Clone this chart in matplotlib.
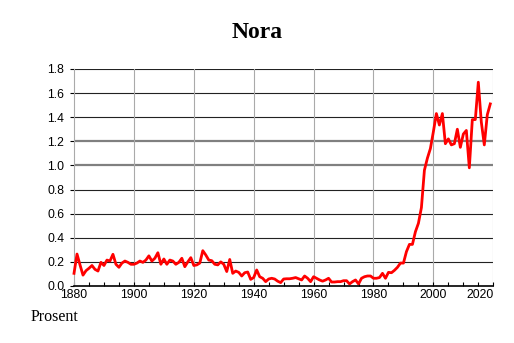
import matplotlib
matplotlib.use("Agg")
import matplotlib.pyplot as plt
from matplotlib.ticker import MultipleLocator

title = "Nora"
ylabel_note = "Prosent"
first_year = 1880
percent = [
    0.105, 0.265, 0.175, 0.09, 0.127, 0.147, 0.17, 0.138, 0.124, 0.196,
    0.17, 0.215, 0.207, 0.263, 0.18, 0.155, 0.19, 0.207, 0.196, 0.18,
    0.18, 0.19, 0.207, 0.196, 0.215, 0.25, 0.207, 0.23, 0.276, 0.18,
    0.224, 0.18, 0.215, 0.207, 0.18, 0.196, 0.23, 0.16, 0.2, 0.235,
    0.17, 0.175, 0.19, 0.293, 0.257, 0.215, 0.21, 0.18, 0.175, 0.2,
    0.18, 0.12, 0.22, 0.105, 0.124, 0.113, 0.083, 0.11, 0.116, 0.055,
    0.07, 0.133, 0.077, 0.064, 0.036, 0.058, 0.064, 0.058, 0.04, 0.028,
    0.058, 0.06, 0.06, 0.064, 0.07, 0.06, 0.05, 0.083, 0.064, 0.036,
    0.077, 0.064, 0.05, 0.04, 0.05, 0.064, 0.033, 0.033, 0.036, 0.036,
    0.044, 0.044, 0.017, 0.036, 0.05, 0.017, 0.064, 0.077, 0.083, 0.083,
    0.064, 0.064, 0.07, 0.105, 0.064, 0.113, 0.11, 0.13, 0.155, 0.19,
    0.19, 0.285, 0.345, 0.345, 0.45, 0.52, 0.65, 0.96, 1.06, 1.14,
    1.28, 1.43, 1.335, 1.43, 1.18, 1.22, 1.17, 1.18, 1.3, 1.15,
    1.26, 1.29, 0.98, 1.38, 1.38, 1.69, 1.36, 1.17, 1.42, 1.51,
]
years = list(range(first_year, first_year + len(percent)))
y_ticks = [0.0, 0.2, 0.4, 0.6, 0.8, 1.0, 1.2, 1.4, 1.6, 1.8]
x_ticks = [1880, 1900, 1920, 1940, 1960, 1980, 2000, 2020]

fig = plt.figure(figsize=(5.14, 3.43), dpi=100)
ax = fig.add_axes([0.144, 0.1662, 0.8157, 0.6328])
ax.set_xlim(1880, 2020)
ax.set_ylim(0, 1.8)

# horizontal grid: dark lines, 1.0 and 1.2 drawn grey and heavier
for v in y_ticks[1:]:
    if v in (1.0, 1.2):
        ax.axhline(v, color="#808080", lw=1.6, zorder=1)
    else:
        ax.axhline(v, color="#222222", lw=0.8, zorder=1)
for yr in x_ticks[1:]:
    ax.axvline(yr, color="#aaaaaa", lw=0.8, zorder=1)

ax.plot(years, percent, color="#ff0000", lw=2.0, zorder=3, clip_on=False)

for side in ("top", "right"):
    ax.spines[side].set_visible(False)
ax.spines["left"].set_color("#aaaaaa")
ax.spines["left"].set_linewidth(0.8)
ax.spines["bottom"].set_color("black")
ax.spines["bottom"].set_linewidth(1.2)
ax.spines["bottom"].set_zorder(4)

ax.set_yticks(y_ticks)
ax.set_yticklabels([f"{v:.1f}" for v in y_ticks])
ax.set_xticks(x_ticks)
ax.set_xticklabels([str(x) for x in x_ticks])
ax.xaxis.set_minor_locator(MultipleLocator(5))
ax.xaxis.get_ticklabels()[-1].set_horizontalalignment("right")

ax.tick_params(axis="y", direction="out", length=3, width=0.8, pad=4,
               labelsize=8.7, colors="black")
ax.tick_params(axis="x", which="both", direction="in", length=3, width=0.8,
               pad=2, labelsize=8.7)
for lab in ax.get_xticklabels() + ax.get_yticklabels():
    lab.set_fontfamily("Liberation Sans")

fig.text(0.5, 0.904, title, ha="center", va="center", fontsize=17,
         fontweight="bold", family="Liberation Serif")
fig.text(0.06, 0.075, ylabel_note, ha="left", va="center", fontsize=11.5,
         family="Liberation Serif")

fig.savefig("out.png", dpi=100)
